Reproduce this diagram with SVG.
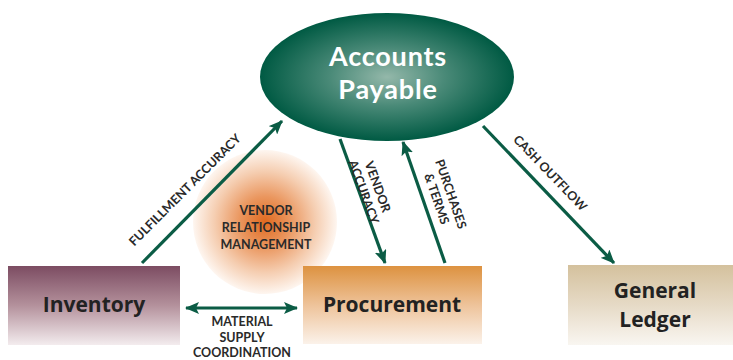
<svg xmlns="http://www.w3.org/2000/svg" width="733" height="360" viewBox="0 0 733 360">
<defs>
<radialGradient id="gAP" cx="0.5" cy="0.5" r="0.5">
<stop offset="0" stop-color="#94b8aa"/>
<stop offset="0.45" stop-color="#4a8a78"/>
<stop offset="1" stop-color="#005a43"/>
</radialGradient>
<radialGradient id="gVRM" cx="0.5" cy="0.5" r="0.5">
<stop offset="0" stop-color="#e06a20"/>
<stop offset="0.35" stop-color="#ea965e"/>
<stop offset="0.7" stop-color="#f5cdb0"/>
<stop offset="1" stop-color="#fef6f0"/>
</radialGradient>
<linearGradient id="gInv" x1="0" y1="0" x2="0" y2="1">
<stop offset="0" stop-color="#7c4c62"/>
<stop offset="0.5" stop-color="#b4919c"/>
<stop offset="1" stop-color="#f3ecee"/>
</linearGradient>
<linearGradient id="gPro" x1="0" y1="0" x2="0" y2="1">
<stop offset="0" stop-color="#dd9240"/>
<stop offset="0.5" stop-color="#eec39a"/>
<stop offset="1" stop-color="#fbf2ea"/>
</linearGradient>
<linearGradient id="gGL" x1="0" y1="0" x2="0" y2="1">
<stop offset="0" stop-color="#d4c19d"/>
<stop offset="0.5" stop-color="#e6dac6"/>
<stop offset="1" stop-color="#f9f6f1"/>
</linearGradient>
<marker id="ah" viewBox="0 0 14 12" refX="13" refY="6" markerWidth="14" markerHeight="12" markerUnits="userSpaceOnUse" orient="auto-start-reverse">
<path d="M0,0 L14,6 L0,12 L3,6 Z" fill="#0b5c45"/>
</marker>
<style>
.lnk{stroke:#0b5c45;stroke-width:3.2;fill:none;marker-end:url(#ah)}
.lbl{font-family:Lato,"Open Sans",sans-serif;font-weight:bold;font-size:12.5px;fill:#2a2a2a;text-anchor:middle}
.box{font-family:"Open Sans","Noto Sans",sans-serif;font-weight:bold;font-size:21px;fill:#222;text-anchor:middle}
.ap{font-family:Lato,"Open Sans",sans-serif;font-weight:bold;font-size:27px;letter-spacing:0.8px;fill:#fff;text-anchor:middle}
</style>
</defs>
<rect width="733" height="360" fill="#fff"/>
<g id="vrm">
<circle cx="265" cy="222" r="72" fill="url(#gVRM)"/>
<text class="lbl" x="266" y="215" font-size="13.5">VENDOR</text>
<text class="lbl" x="266" y="232" font-size="13.5">RELATIONSHIP</text>
<text class="lbl" x="266" y="249" font-size="13.5">MANAGEMENT</text>
</g>
<g id="accounts-payable">
<ellipse cx="387" cy="77" rx="127" ry="64" fill="url(#gAP)"/>
<text class="ap" x="388" y="66">Accounts</text>
<text class="ap" x="388" y="99">Payable</text>
</g>
<g id="inventory">
<rect x="8" y="266" width="172" height="79" fill="url(#gInv)"/>
<text class="box" x="94" y="312">Inventory</text>
</g>
<g id="procurement">
<rect x="303" y="266" width="179" height="78" fill="url(#gPro)"/>
<text class="box" x="392" y="312">Procurement</text>
</g>
<g id="general-ledger">
<rect x="568" y="265" width="165" height="80" fill="url(#gGL)"/>
<text class="box" x="655" y="298">General</text>
<text class="box" x="655" y="327">Ledger</text>
</g>
<g id="connectors">
<line class="lnk" x1="142" y1="263" x2="282" y2="121"/>
<line class="lnk" x1="340" y1="139" x2="385" y2="263"/>
<line class="lnk" x1="445" y1="263" x2="403" y2="142"/>
<line class="lnk" x1="483" y1="126" x2="614" y2="263"/>
<line class="lnk" x1="186" y1="308" x2="297" y2="308" style="marker-start:url(#ah)"/>
<text class="lbl" transform="translate(188,193) rotate(-45)">FULFILLMENT ACCURACY</text>
<g transform="translate(369,190) rotate(70)">
<text class="lbl" x="0" y="-5">VENDOR</text>
<text class="lbl" x="0" y="10">ACCURACY</text>
</g>
<g transform="translate(442,197) rotate(71)">
<text class="lbl" x="0" y="-5">PURCHASES</text>
<text class="lbl" x="0" y="10">&amp; TERMS</text>
</g>
<text class="lbl" transform="translate(547,176) rotate(46)">CASH OUTFLOW</text>
<text class="lbl" x="242" y="326">MATERIAL</text>
<text class="lbl" x="242" y="341.5">SUPPLY</text>
<text class="lbl" x="242" y="357">COORDINATION</text>
</g>
</svg>
